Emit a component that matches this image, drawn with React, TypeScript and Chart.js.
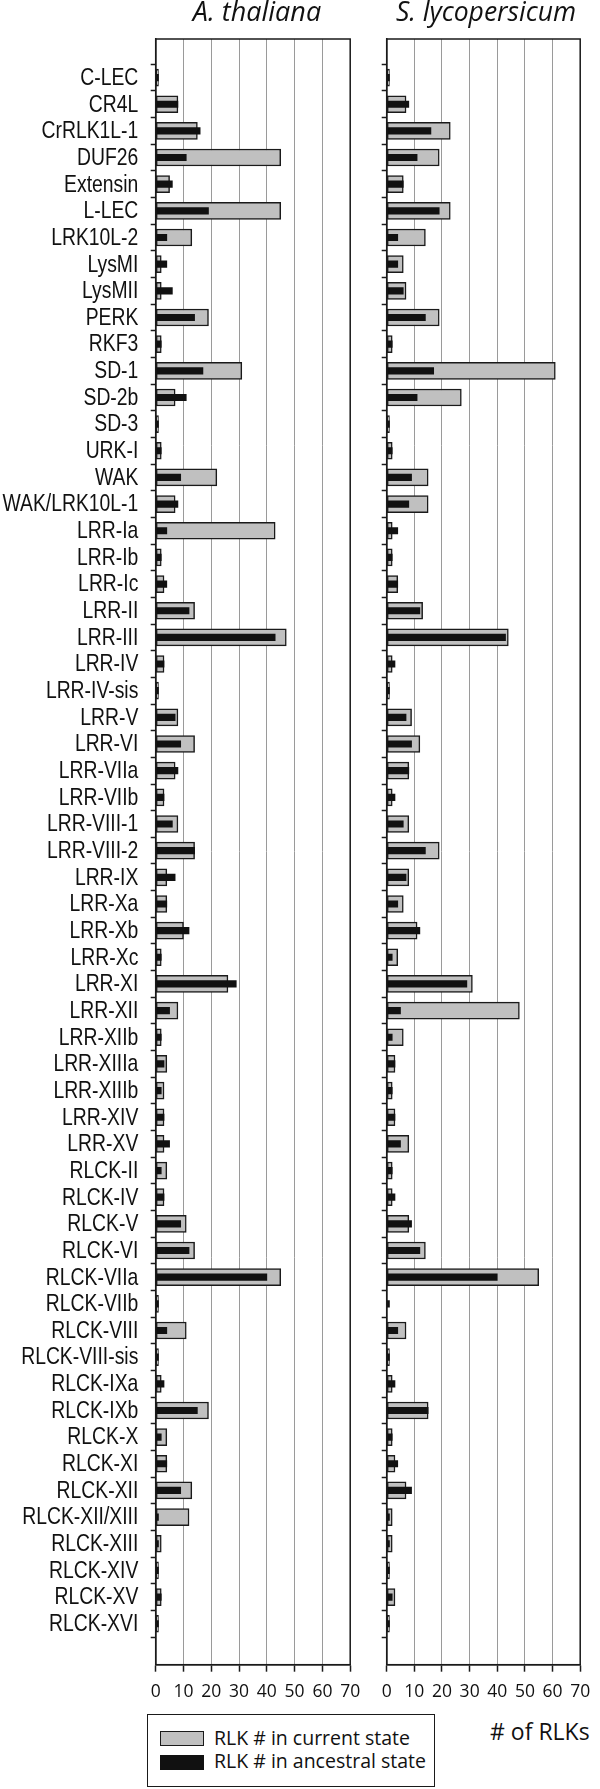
import React, { useEffect, useRef } from "react";
import { Chart, registerables } from "chart.js";

Chart.register(...registerables);

const categories = [
  "C-LEC", "CR4L", "CrRLK1L-1", "DUF26", "Extensin", "L-LEC", "LRK10L-2", "LysMI", "LysMII", "PERK",
  "RKF3", "SD-1", "SD-2b", "SD-3", "URK-I", "WAK", "WAK/LRK10L-1", "LRR-Ia", "LRR-Ib", "LRR-Ic",
  "LRR-II", "LRR-III", "LRR-IV", "LRR-IV-sis", "LRR-V", "LRR-VI", "LRR-VIIa", "LRR-VIIb", "LRR-VIII-1", "LRR-VIII-2",
  "LRR-IX", "LRR-Xa", "LRR-Xb", "LRR-Xc", "LRR-XI", "LRR-XII", "LRR-XIIb", "LRR-XIIIa", "LRR-XIIIb", "LRR-XIV",
  "LRR-XV", "RLCK-II", "RLCK-IV", "RLCK-V", "RLCK-VI", "RLCK-VIIa", "RLCK-VIIb", "RLCK-VIII", "RLCK-VIII-sis", "RLCK-IXa",
  "RLCK-IXb", "RLCK-X", "RLCK-XI", "RLCK-XII", "RLCK-XII/XIII", "RLCK-XIII", "RLCK-XIV", "RLCK-XV", "RLCK-XVI",
];

const thalianaCurrent = [
  1, 8, 15, 45, 5, 45, 13, 2, 2, 19,
  2, 31, 7, 1, 2, 22, 7, 43, 2, 3,
  14, 47, 3, 1, 8, 14, 7, 3, 8, 14,
  4, 4, 10, 2, 26, 8, 2, 4, 3, 3,
  3, 4, 3, 11, 14, 45, 1, 11, 1, 2,
  19, 4, 4, 13, 12, 2, 1, 2, 1,
];

const lycopersicumCurrent = [
  1, 7, 23, 19, 6, 23, 14, 6, 7, 19,
  2, 61, 27, 1, 2, 15, 15, 2, 2, 4,
  13, 44, 2, 1, 9, 12, 8, 2, 8, 19,
  8, 6, 11, 4, 31, 48, 6, 3, 2, 3,
  8, 2, 2, 8, 14, 55, 0, 7, 1, 2,
  15, 2, 3, 7, 2, 2, 1, 3, 1,
];

const ancestral = [
  1, 8, 16, 11, 6, 19, 4, 4, 6, 14,
  2, 17, 11, 1, 2, 9, 8, 4, 2, 4,
  12, 43, 3, 1, 7, 9, 8, 3, 6, 14,
  7, 4, 12, 2, 29, 5, 2, 3, 2, 3,
  5, 2, 3, 9, 12, 40, 1, 4, 1, 3,
  15, 2, 4, 9, 1, 1, 1, 2, 1,
];

const xTickStep = 10;
const xMax = 70;
const titles = ["A. thaliana", "S. lycopersicum"];
const legendLabels = ["RLK # in current state", "RLK # in ancestral state"];
const axisTitle = "# of RLKs";

const LABEL_FONT = "'Liberation Sans', Arial, sans-serif";
const SANS = "'Open Sans', 'Liberation Sans', sans-serif";
const INK = "#1a1a1a";
const GREY = "#c0c0c0";
const Y_TICK_LEN = 5;
const Y_LABEL_PAD = 12.4;

const framePlugin = {
  id: "frame",
  afterDatasetsDraw(chart: any) {
    const { ctx, chartArea: a } = chart;
    ctx.save();
    ctx.strokeStyle = INK;
    ctx.lineWidth = 1.5;
    ctx.strokeRect(a.left, a.top, a.right - a.left, a.bottom - a.top);
    ctx.restore();
  },
};

// Category labels drawn at the y scale's tick positions in a condensed (narrow) style
const narrowLabelPlugin = {
  id: "narrowLabels",
  afterDraw(chart: any, _args: any, opts: any) {
    if (!opts || !opts.show) return;
    const { ctx, chartArea: a } = chart;
    const yScale = chart.scales.y;
    ctx.save();
    ctx.fillStyle = "#111";
    ctx.font = `24.8px ${LABEL_FONT}`;
    ctx.textAlign = "right";
    ctx.textBaseline = "middle";
    yScale.ticks.forEach((t: any) => {
      const label = categories[t.value];
      if (label === undefined) return;
      const py = yScale.getPixelForValue(t.value);
      ctx.save();
      ctx.translate(a.left - Y_TICK_LEN - Y_LABEL_PAD, py + 0.5);
      ctx.scale(0.78, 1);
      ctx.fillText(label, 0, 0);
      ctx.restore();
    });
    ctx.restore();
  },
};

type PanelProps = {
  current: number[];
  showLabels: boolean;
  left: number;
  width: number;
  height: number;
  yWidth: number;
  xHeight: number;
  padTop: number;
  padRight: number;
};

function Panel({ current, showLabels, left, width, height, yWidth, xHeight, padTop, padRight }: PanelProps) {
  const ref = useRef<HTMLCanvasElement | null>(null);

  useEffect(() => {
    if (!ref.current) return;
    const chart = new Chart(ref.current, {
      type: "bar",
      data: {
        datasets: [
          {
            label: legendLabels[0],
            data: current.map((v, i) => ({ x: v, y: i })),
            backgroundColor: GREY,
            borderColor: INK,
            borderWidth: 1.5,
            borderSkipped: false,
            barThickness: 17,
            grouped: false,
            order: 1,
          } as any,
          {
            label: legendLabels[1],
            data: ancestral.map((v, i) => ({ x: v, y: i })),
            backgroundColor: "#111111",
            borderWidth: 0,
            barThickness: 6.5,
            grouped: false,
            order: 0,
          } as any,
        ],
      },
      options: {
        indexAxis: "y",
        animation: false,
        responsive: false,
        devicePixelRatio: 1,
        layout: { padding: { top: padTop, right: padRight, left: 0, bottom: 0 } },
        plugins: {
          legend: { display: false },
          tooltip: { enabled: false },
          title: { display: false },
          narrowLabels: { show: showLabels },
        },
        scales: {
          y: {
            type: "linear",
            reverse: true,
            min: -0.93,
            max: 59.02,
            afterBuildTicks: (scale: any) => {
              scale.ticks = categories.map((_, i) => ({ value: i }));
            },
            afterFit: (scale: any) => {
              scale.width = yWidth;
            },
            ticks: {
              autoSkip: false,
              padding: Y_LABEL_PAD,
              callback: () => "",
            },
            grid: {
              drawOnChartArea: false,
              drawTicks: true,
              tickLength: Y_TICK_LEN,
              tickColor: INK,
              tickWidth: 1.5,
            },
            border: { display: true, color: INK, width: 1.5 },
          },
          x: {
            type: "linear",
            min: 0,
            max: xMax,
            afterFit: (scale: any) => {
              scale.height = xHeight;
            },
            ticks: {
              stepSize: xTickStep,
              padding: 9.8,
              color: "#111",
              font: { family: SANS, size: 17.5 },
              maxRotation: 0,
            },
            grid: {
              color: "#9a9a9a",
              lineWidth: 1,
              drawTicks: true,
              tickLength: 7,
              tickColor: INK,
              tickWidth: 1.5,
            },
            border: { display: true, color: INK, width: 1.5 },
          },
        },
      } as any,
      plugins: [framePlugin, narrowLabelPlugin],
    });
    return () => chart.destroy();
  }, []);

  return (
    <canvas
      ref={ref}
      width={width}
      height={height}
      style={{ position: "absolute", left, top: 0, width, height }}
    />
  );
}

export default function App() {
  const textBase: React.CSSProperties = {
    position: "absolute",
    whiteSpace: "nowrap",
    color: "#111",
    fontFamily: SANS,
  };
  return (
    <div style={{ position: "absolute", left: 0, top: 0, width: 600, height: 1789, background: "#fff", overflow: "hidden" }}>
      <Panel current={thalianaCurrent} showLabels={true} left={0} width={370} height={1710} yWidth={155.7} xHeight={45.3} padTop={39} padRight={15.5} />
      <Panel current={lycopersicumCurrent} showLabels={false} left={370} width={230} height={1710} yWidth={16.7} xHeight={45.3} padTop={39} padRight={14.3} />

      <div style={{ ...textBase, left: 257 - 150, width: 300, textAlign: "center", top: -4, fontSize: 27, lineHeight: "30px", fontStyle: "italic" }}>{titles[0]}</div>
      <div style={{ ...textBase, left: 486 - 150, width: 300, textAlign: "center", top: -4, fontSize: 26.5, lineHeight: "30px", fontStyle: "italic" }}>{titles[1]}</div>

      <div style={{ position: "absolute", left: 146.7, top: 1714.3, width: 288.3, height: 72.7, border: `1.5px solid ${INK}`, boxSizing: "border-box" }} />
      <div style={{ position: "absolute", left: 160, top: 1731, width: 44.3, height: 15, background: GREY, border: `1.5px solid ${INK}`, boxSizing: "border-box" }} />
      <div style={{ position: "absolute", left: 160, top: 1755, width: 44.3, height: 15, background: "#111" }} />
      <div style={{ ...textBase, left: 214, top: 1725.5, fontSize: 19.5, lineHeight: "24px" }}>{legendLabels[0]}</div>
      <div style={{ ...textBase, left: 214, top: 1748.5, fontSize: 19.5, lineHeight: "24px" }}>{legendLabels[1]}</div>
      <div style={{ ...textBase, left: 490, top: 1716.5, fontSize: 23, lineHeight: "28px" }}>{axisTitle}</div>
    </div>
  );
}
